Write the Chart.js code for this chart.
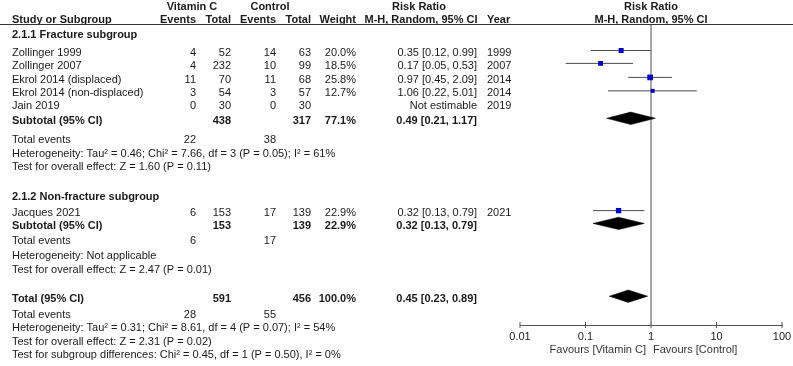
<!DOCTYPE html>
<html>
<head>
<meta charset="utf-8">
<script src="https://cdn.jsdelivr.net/npm/chart.js@4"></script>
<style>
  html, body { margin: 0; padding: 0; background: #ffffff; }
  #wrap { width: 793px; height: 366px; position: relative; }
</style>
</head>
<body>
<div id="wrap"><canvas id="c" width="793" height="366"></canvas></div>
<script>
// ---------------- data ----------------
const studies      = ['Zollinger 1999', 'Zollinger 2007', 'Ekrol 2014 (displaced)', 'Ekrol 2014 (non-displaced)', 'Jain 2019', 'Jacques 2021'];
const studyGroup   = [0, 0, 0, 0, 0, 1];
const vitEvents    = [4, 4, 11, 3, 0, 6];
const vitTotal     = [52, 232, 70, 54, 30, 153];
const ctrlEvents   = [14, 10, 11, 3, 0, 17];
const ctrlTotal    = [63, 99, 68, 57, 30, 139];
const weights      = [20.0, 18.5, 25.8, 12.7, null, 22.9];
const rr           = [0.35, 0.17, 0.97, 1.06, null, 0.32];
const rrLow        = [0.12, 0.05, 0.45, 0.22, null, 0.13];
const rrHigh       = [0.99, 0.53, 2.09, 5.01, null, 0.79];
const years        = [1999, 2007, 2014, 2014, 2019, 2021];

const groupNames     = ['2.1.1 Fracture subgroup', '2.1.2 Non-fracture subgroup'];
const groupVitTotal  = [438, 153];
const groupCtrlTotal = [317, 139];
const groupWeight    = [77.1, 22.9];
const groupRR        = [0.49, 0.32];
const groupLow       = [0.21, 0.13];
const groupHigh      = [1.17, 0.79];
const groupVitEv     = [22, 6];
const groupCtrlEv    = [38, 17];
const groupHet       = ['Heterogeneity: Tau² = 0.46; Chi² = 7.66, df = 3 (P = 0.05); I² = 61%', 'Heterogeneity: Not applicable'];
const groupTest      = ['Test for overall effect: Z = 1.60 (P = 0.11)', 'Test for overall effect: Z = 2.47 (P = 0.01)'];

const totalVit    = 591;
const totalCtrl   = 456;
const totalWeight = 100.0;
const totalRR     = 0.45;
const totalLow    = 0.23;
const totalHigh   = 0.89;
const totalVitEv  = 28;
const totalCtrlEv = 55;
const totalHet    = 'Heterogeneity: Tau² = 0.31; Chi² = 8.61, df = 4 (P = 0.07); I² = 54%';
const totalTest   = 'Test for overall effect: Z = 2.31 (P = 0.02)';
const subgroupDiff = 'Test for subgroup differences: Chi² = 0.45, df = 1 (P = 0.50), I² = 0%';

const tickValues = [0.01, 0.1, 1, 10, 100];
const tickLabels = ['0.01', '0.1', '1', '10', '100'];
const favourLeft  = 'Favours [Vitamin C]';
const favourRight = 'Favours [Control]';

// ---------------- layout (row positions in row units) ----------------
const rowHeader1 = -3.41, rowHeader2 = -2.44;
const rowGroupTitle = [-1.33, 10.67];
const rowStudy = [0, 0.96, 2, 3, 3.96, 11.9];
const rowSub = [5.04, 12.85];
const rowSubEv = [6.44, 14.0];
const rowSubHet = [7.48, 15.11];
const rowSubTest = [8.44, 16.15];
const rowTotal = 18.26, rowTotalEv = 19.48, rowTotalHet = 20.44, rowTotalTest = 21.48, rowDiff = 22.44;
const yMin = -2.074, yMax = 20.22;
const markShift = -0.18;
const diamondHalf = 0.46;

const FONT = '"Liberation Sans", Arial, Helvetica, sans-serif';
const TXT = '#1a1a1a';
const fmt2 = v => v.toFixed(2);
const ciText = (e, l, h) => `${fmt2(e)} [${fmt2(l)}, ${fmt2(h)}]`;

// ---------------- datasets ----------------
const datasets = [];
// null line at RR = 1
datasets.push({
  data: [{x: 1, y: yMin}, {x: 1, y: yMax}],
  showLine: true, borderColor: '#8a8a8a', borderWidth: 1.5, pointRadius: 0, order: 5
});
// axis tick marks (centred on the axis line)
datasets.push({
  data: tickValues.map(v => ({x: v, y: yMax})),
  showLine: false, pointStyle: 'line', rotation: 90, pointRadius: 3,
  pointBorderColor: '#555', pointBorderWidth: 1, clip: false, order: 6
});
// CI whiskers
studies.forEach((s, i) => {
  if (rr[i] == null) return;
  const y = rowStudy[i] + markShift;
  datasets.push({
    data: [{x: rrLow[i], y}, {x: rrHigh[i], y}],
    showLine: true, borderColor: '#4d4d4d', borderWidth: 1, pointRadius: 0, order: 3
  });
});
// study squares
const sqData = [], sqRadius = [];
studies.forEach((s, i) => {
  if (rr[i] == null) return;
  sqData.push({x: rr[i], y: rowStudy[i] + markShift});
  sqRadius.push(0.79 * Math.sqrt(weights[i]));
});
datasets.push({
  data: sqData, pointStyle: 'rect', pointRadius: sqRadius, pointBackgroundColor: '#0000cc',
  pointBorderWidth: 0, pointBorderColor: '#0000cc', showLine: false, order: 1
});
// diamonds
function diamond(e, l, h, row) {
  const y = row + markShift;
  return {
    data: [{x: l, y}, {x: e, y: y - diamondHalf}, {x: h, y}, {x: e, y: y + diamondHalf}, {x: l, y}],
    showLine: true, fill: 'shape', backgroundColor: '#000000', borderColor: '#000000',
    borderWidth: 0.5, pointRadius: 0, tension: 0, order: 2
  };
}
groupRR.forEach((e, g) => datasets.push(diamond(e, groupLow[g], groupHigh[g], rowSub[g])));
datasets.push(diamond(totalRR, totalLow, totalHigh, rowTotal));

// ---------------- text plugin ----------------
const tablePlugin = {
  id: 'forestTable',
  afterDraw(chart) {
    const ctx = chart.ctx;
    const ys = chart.scales.y, xs = chart.scales.x;
    const Y = r => ys.getPixelForValue(r);
    const text = (t, x, r, align, bold) => {
      ctx.font = (bold ? 'bold ' : '') + '11px ' + FONT;
      ctx.textAlign = align;
      ctx.textBaseline = 'middle';
      ctx.fillStyle = TXT;
      ctx.fillText(String(t), x, Y(r));
    };
    const C = { name: 12, vE: 196, vT: 231, cE: 276, cT: 311, w: 356, rr: 477, yr: 487 };
    ctx.save();
    // headers
    text('Vitamin C', 192, rowHeader1, 'center', true);
    text('Control', 270, rowHeader1, 'center', true);
    text('Risk Ratio', 419, rowHeader1, 'center', true);
    text('Risk Ratio', xs.getPixelForValue(1), rowHeader1, 'center', true);
    text('Study or Subgroup', C.name, rowHeader2, 'left', true);
    text('Events', C.vE, rowHeader2, 'right', true);
    text('Total', C.vT, rowHeader2, 'right', true);
    text('Events', C.cE, rowHeader2, 'right', true);
    text('Total', C.cT, rowHeader2, 'right', true);
    text('Weight', C.w, rowHeader2, 'right', true);
    text('M-H, Random, 95% CI', 421, rowHeader2, 'center', true);
    text('Year', C.yr, rowHeader2, 'left', true);
    text('M-H, Random, 95% CI', xs.getPixelForValue(1), rowHeader2, 'center', true);
    // header rule
    ctx.strokeStyle = '#333';
    ctx.lineWidth = 1;
    ctx.beginPath();
    const hy = Math.round(chart.chartArea.top) - 0.5;
    ctx.moveTo(0, hy); ctx.lineTo(793, hy); ctx.stroke();

    // groups
    groupNames.forEach((g, gi) => {
      text(g, C.name, rowGroupTitle[gi], 'left', true);
      studies.forEach((s, i) => {
        if (studyGroup[i] !== gi) return;
        const r = rowStudy[i];
        text(s, C.name, r, 'left');
        text(vitEvents[i], C.vE, r, 'right');
        text(vitTotal[i], C.vT, r, 'right');
        text(ctrlEvents[i], C.cE, r, 'right');
        text(ctrlTotal[i], C.cT, r, 'right');
        if (weights[i] != null) text(weights[i].toFixed(1) + '%', C.w, r, 'right');
        text(rr[i] != null ? ciText(rr[i], rrLow[i], rrHigh[i]) : 'Not estimable', C.rr, r, 'right');
        text(years[i], C.yr, r, 'left');
      });
      text('Subtotal (95% CI)', C.name, rowSub[gi], 'left', true);
      text(groupVitTotal[gi], C.vT, rowSub[gi], 'right', true);
      text(groupCtrlTotal[gi], C.cT, rowSub[gi], 'right', true);
      text(groupWeight[gi].toFixed(1) + '%', C.w, rowSub[gi], 'right', true);
      text(ciText(groupRR[gi], groupLow[gi], groupHigh[gi]), C.rr, rowSub[gi], 'right', true);
      text('Total events', C.name, rowSubEv[gi], 'left');
      text(groupVitEv[gi], C.vE, rowSubEv[gi], 'right');
      text(groupCtrlEv[gi], C.cE, rowSubEv[gi], 'right');
      text(groupHet[gi], C.name, rowSubHet[gi], 'left');
      text(groupTest[gi], C.name, rowSubTest[gi], 'left');
    });
    // total
    text('Total (95% CI)', C.name, rowTotal, 'left', true);
    text(totalVit, C.vT, rowTotal, 'right', true);
    text(totalCtrl, C.cT, rowTotal, 'right', true);
    text(totalWeight.toFixed(1) + '%', C.w, rowTotal, 'right', true);
    text(ciText(totalRR, totalLow, totalHigh), C.rr, rowTotal, 'right', true);
    text('Total events', C.name, rowTotalEv, 'left');
    text(totalVitEv, C.vE, rowTotalEv, 'right');
    text(totalCtrlEv, C.cE, rowTotalEv, 'right');
    text(totalHet, C.name, rowTotalHet, 'left');
    text(totalTest, C.name, rowTotalTest, 'left');
    text(subgroupDiff, C.name, rowDiff, 'left');

    // favours labels
    const x1 = xs.getPixelForValue(1);
    const fy = chart.chartArea.bottom + 25;
    ctx.font = '11px ' + FONT;
    ctx.fillStyle = '#333';
    ctx.textBaseline = 'middle';
    ctx.textAlign = 'right'; ctx.fillText(favourLeft, x1 - 5, fy);
    ctx.textAlign = 'left';  ctx.fillText(favourRight, x1 + 2, fy);
    ctx.restore();
  }
};

new Chart(document.getElementById('c'), {
  type: 'scatter',
  data: { datasets },
  options: {
    responsive: false,
    animation: false,
    events: [],
    layout: { padding: { left: 520, right: 11, top: 25, bottom: 0 } },
    plugins: { legend: { display: false }, tooltip: { enabled: false } },
    scales: {
      x: {
        type: 'logarithmic', min: 0.01, max: 100, position: 'bottom',
        afterBuildTicks: s => { s.ticks = tickValues.map(v => ({ value: v })); },
        afterFit: s => { s.height = 41; },
        ticks: {
          autoSkip: false, maxRotation: 0, padding: 1, color: '#222',
          font: { family: FONT, size: 11 },
          callback: (v) => { const k = tickValues.indexOf(v); return k >= 0 ? tickLabels[k] : ''; }
        },
        grid: { display: true, drawOnChartArea: false, drawTicks: true, tickLength: 4, color: 'rgba(0,0,0,0)' },
        border: { display: true, color: '#555', width: 1 }
      },
      y: { type: 'linear', reverse: true, min: yMin, max: yMax, display: false }
    }
  },
  plugins: [tablePlugin]
});
</script>
</body>
</html>
